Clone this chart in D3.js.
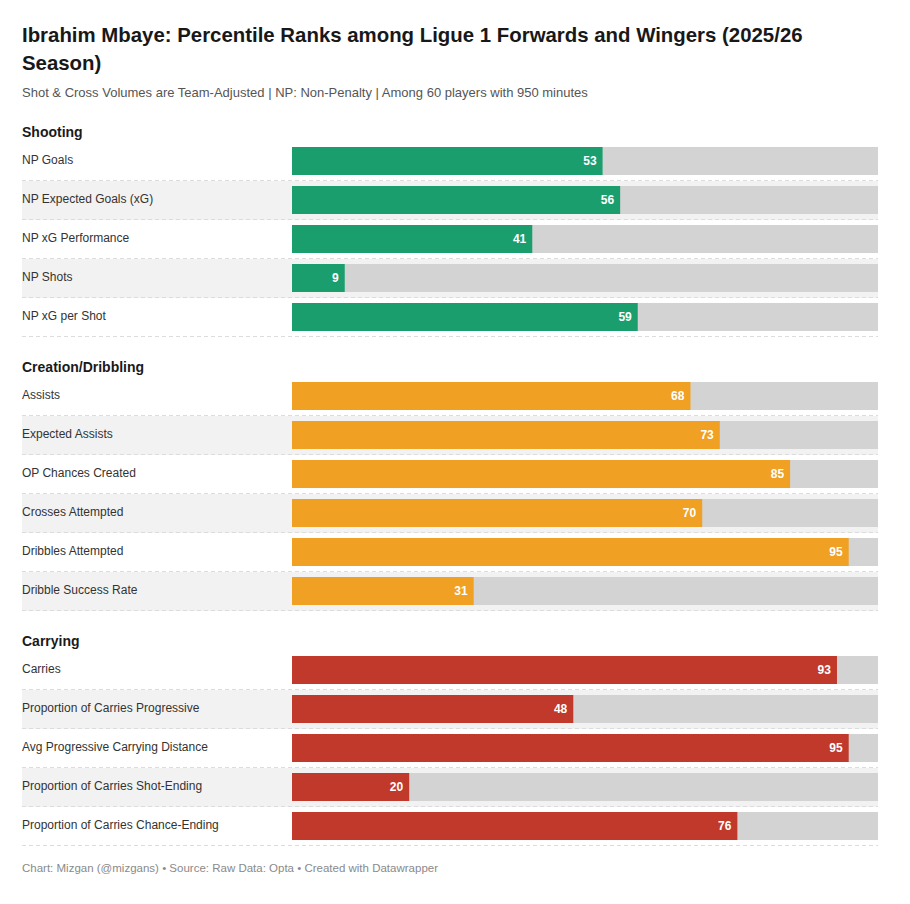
<!DOCTYPE html>
<html>
<head>
<meta charset="utf-8">
<script src="https://cdn.jsdelivr.net/npm/d3@7"></script>
<style>
  body { margin: 0; background: #fff; }
  svg text { font-family: "Liberation Sans", Arial, sans-serif; }
</style>
</head>
<body>
<div id="chart"></div>
<script>
'use strict';

// sections and their metrics (percentile ranks)
const sections = ['Shooting', 'Creation/Dribbling', 'Carrying'];
const sectionColors = ['#1b9e6e', '#f0a023', '#c0392b'];

const shootingLabels = ['NP Goals', 'NP Expected Goals (xG)', 'NP xG Performance', 'NP Shots', 'NP xG per Shot'];
const shootingValues = [53, 56, 41, 9, 59];

const creationLabels = ['Assists', 'Expected Assists', 'OP Chances Created', 'Crosses Attempted', 'Dribbles Attempted', 'Dribble Success Rate'];
const creationValues = [68, 73, 85, 70, 95, 31];

const carryingLabels = ['Carries', 'Proportion of Carries Progressive', 'Avg Progressive Carrying Distance', 'Proportion of Carries Shot-Ending', 'Proportion of Carries Chance-Ending'];
const carryingValues = [93, 48, 95, 20, 76];

const titleLines = ['Ibrahim Mbaye: Percentile Ranks among Ligue 1 Forwards and Wingers (2025/26', 'Season)'];
const subtitle = 'Shot & Cross Volumes are Team-Adjusted | NP: Non-Penalty | Among 60 players with 950 minutes';
const footer = 'Chart: Mizgan (@mizgans) \u2022 Source: Raw Data: Opta \u2022 Created with Datawrapper';

const groups = [
    {name: sections[0], color: sectionColors[0], labels: shootingLabels, values: shootingValues},
    {name: sections[1], color: sectionColors[1], labels: creationLabels, values: creationValues},
    {name: sections[2], color: sectionColors[2], labels: carryingLabels, values: carryingValues}
];

// Config
const w = 910, h = 904;
const left = 22, right = 878;
const barLeft = 292;
const rowH = 39;
const barH = 28;
const sectionGap = 40;

const svg = d3.select('#chart')
    .append('svg')
    .attr('width', w)
    .attr('height', h);

// Title
svg.append('text')
    .attr('x', left)
    .attr('y', 42)
    .attr('font-size', 20.4)
    .attr('font-weight', 'bold')
    .attr('fill', '#181818')
    .selectAll('tspan')
    .data(titleLines)
    .join('tspan')
    .attr('x', left)
    .attr('dy', (d, i) => i === 0 ? 0 : 28)
    .text(d => d);

// Subtitle
svg.append('text')
    .attr('x', left)
    .attr('y', 97)
    .attr('font-size', 13)
    .attr('fill', '#555')
    .text(subtitle);

// x scale for percentiles
const xScale = d3.scaleLinear()
    .domain([0, 100])
    .range([barLeft, right]);

let y = 142; // top of first row
groups.forEach((g, gi) => {
    if (gi > 0) y += sectionGap;

    // section header
    svg.append('text')
        .attr('x', left)
        .attr('y', y - 5)
        .attr('font-size', 14)
        .attr('font-weight', 'bold')
        .attr('fill', '#1a1a1a')
        .text(g.name);

    const rows = g.labels.map((l, i) => ({label: l, value: g.values[i], top: y + i * rowH, idx: i}));

    const rowG = svg.append('g')
        .selectAll('g')
        .data(rows)
        .join('g')
        .attr('transform', d => `translate(0,${d.top})`);

    // alternating background
    rowG.filter(d => d.idx % 2 === 1)
        .append('rect')
        .attr('x', left)
        .attr('y', 0)
        .attr('width', right - left)
        .attr('height', rowH)
        .attr('fill', '#f2f2f2');

    // bottom dashed divider
    rowG.append('line')
        .attr('x1', left)
        .attr('x2', right)
        .attr('y1', rowH - 0.5)
        .attr('y2', rowH - 0.5)
        .attr('stroke', '#dcdcdc')
        .attr('stroke-dasharray', '4,3');

    // label
    rowG.append('text')
        .attr('x', left)
        .attr('y', 18)
        .attr('dy', '0.35em')
        .attr('font-size', 12)
        .attr('fill', '#333')
        .text(d => d.label);

    // track
    rowG.append('rect')
        .attr('x', xScale(0))
        .attr('y', 5)
        .attr('width', xScale(100) - xScale(0))
        .attr('height', barH)
        .attr('fill', '#d3d3d3');

    // bar
    rowG.append('rect')
        .attr('x', xScale(0))
        .attr('y', 5)
        .attr('width', d => xScale(d.value) - xScale(0))
        .attr('height', barH)
        .attr('fill', g.color);

    // value
    rowG.append('text')
        .attr('x', d => xScale(d.value) - 6)
        .attr('y', 19)
        .attr('dy', '0.35em')
        .attr('text-anchor', 'end')
        .attr('font-size', 12)
        .attr('font-weight', 'bold')
        .attr('fill', '#fff')
        .text(d => d.value);

    y += g.labels.length * rowH;
});

// Footer
svg.append('text')
    .attr('x', left)
    .attr('y', y + 26)
    .attr('font-size', 11.5)
    .attr('fill', '#8a8a8a')
    .text(footer);
</script>
</body>
</html>
